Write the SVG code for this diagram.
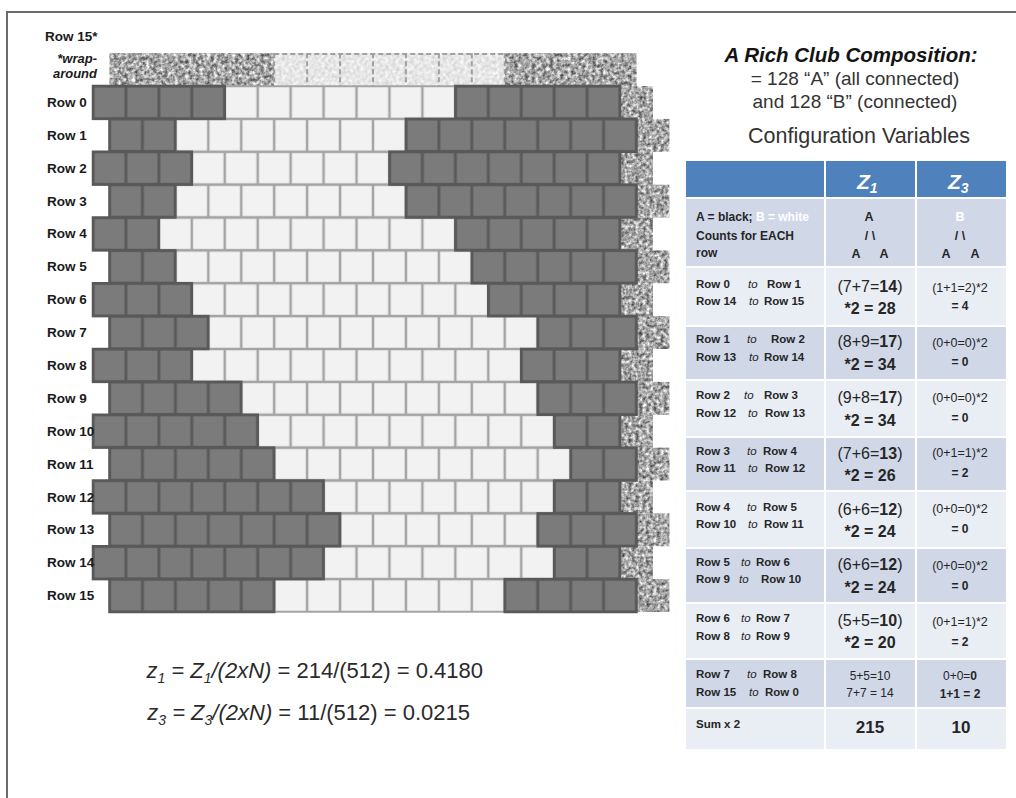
<svg xmlns="http://www.w3.org/2000/svg" width="1016" height="798" viewBox="0 0 1016 798">
<defs>
<style>
.lbl{font-family:"Liberation Sans",Arial,sans-serif;font-weight:bold;font-size:13.5px;fill:#1a1a1a}
.lbi{font-family:"Liberation Sans",Arial,sans-serif;font-weight:bold;font-style:italic;font-size:13px;fill:#1a1a1a}
.dk{stroke:#595959;stroke-width:2.5}
.wt{stroke:#a4a4a4;stroke-width:1.5}
.tx{fill:#888}
.ttl{font-family:"Liberation Sans",Arial,sans-serif;font-weight:bold;font-style:italic;font-size:20.5px;fill:#141414}
.sub{font-family:"Liberation Sans",Arial,sans-serif;font-size:19px;fill:#333}
.cfg{font-family:"Liberation Sans",Arial,sans-serif;font-size:21.5px;fill:#333}
.zh{font-family:"Liberation Sans",Arial,sans-serif;font-weight:bold;font-style:italic;font-size:21px;fill:#fff}
.c1{font-family:"Liberation Sans",Arial,sans-serif;font-weight:bold;font-size:12px;fill:#262626}
.ca{font-family:"Liberation Sans",Arial,sans-serif;font-weight:bold;font-size:12.5px;fill:#262626;text-anchor:middle}
.r{font-family:"Liberation Sans",Arial,sans-serif;font-weight:bold;font-size:11.5px;fill:#262626}
.to{font-weight:normal;font-style:italic}
.v{font-family:"Liberation Sans",Arial,sans-serif;font-size:16px;fill:#262626;text-anchor:middle}
.vb{font-family:"Liberation Sans",Arial,sans-serif;font-weight:bold;font-size:16px;fill:#262626;text-anchor:middle}
.s{font-family:"Liberation Sans",Arial,sans-serif;font-size:12.5px;fill:#262626;text-anchor:middle}
.sb{font-family:"Liberation Sans",Arial,sans-serif;font-weight:bold;font-size:12px;fill:#262626;text-anchor:middle}
.sm{font-family:"Liberation Sans",Arial,sans-serif;font-size:12px;fill:#262626;text-anchor:middle}
.big{font-family:"Liberation Sans",Arial,sans-serif;font-weight:bold;font-size:17px;fill:#262626;text-anchor:middle}
.f{font-family:"Liberation Sans",Arial,sans-serif;font-size:22px;fill:#2a2a2a;text-anchor:end}
.it{font-style:italic}
.hl{stroke:#fff;stroke-width:2}
</style>
<pattern id="wE" patternUnits="userSpaceOnUse" x="93" y="86" width="32.94" height="32.875"><rect width="32.94" height="32.875" fill="#a4a4a4"/><rect x="1.25" y="1.25" width="30.44" height="30.375" fill="#f2f2f2"/></pattern>
<pattern id="wO" patternUnits="userSpaceOnUse" x="109.47" y="86" width="32.94" height="32.875"><rect width="32.94" height="32.875" fill="#a4a4a4"/><rect x="1.25" y="1.25" width="30.44" height="30.375" fill="#f2f2f2"/></pattern>
<pattern id="dE" patternUnits="userSpaceOnUse" x="93" y="86" width="32.94" height="32.875"><rect width="32.94" height="32.875" fill="#5a5a5a"/><rect x="1.5" y="1.5" width="29.94" height="29.875" fill="#7b7b7b"/></pattern>
<pattern id="dO" patternUnits="userSpaceOnUse" x="109.47" y="86" width="32.94" height="32.875"><rect width="32.94" height="32.875" fill="#5a5a5a"/><rect x="1.5" y="1.5" width="29.94" height="29.875" fill="#7b7b7b"/></pattern>
<filter id="granD" x="0" y="0" width="1" height="1" color-interpolation-filters="sRGB">
<feTurbulence type="fractalNoise" baseFrequency="0.28" numOctaves="3" seed="4" result="n"/>
<feColorMatrix in="n" type="matrix" values="1.1 0 0 0 0.1  1.1 0 0 0 0.1  1.1 0 0 0 0.1  0 0 0 0 1" result="c"/>
<feGaussianBlur in="c" stdDeviation="0.45" result="b"/>
<feComposite in="b" in2="SourceGraphic" operator="in"/>
</filter>
<filter id="granL" x="0" y="0" width="1" height="1" color-interpolation-filters="sRGB">
<feTurbulence type="fractalNoise" baseFrequency="0.28" numOctaves="2" seed="9" result="n"/>
<feColorMatrix in="n" type="matrix" values="0.25 0 0 0 0.78  0.25 0 0 0 0.78  0.25 0 0 0 0.78  0 0 0 0 1"/>
<feComposite in2="SourceGraphic" operator="in"/>
</filter>
</defs>

<rect width="1016" height="798" fill="#fff"/>
<g id="frame"><path d="M7,798 V12 H1016" fill="none" stroke="#6a6a6a" stroke-width="2"/></g>

<g id="wrap-texture">
<g filter="url(#granD)" class="tx">
<rect x="109.47" y="53.125" width="164.7" height="32.875"/>
<rect x="504.75" y="53.125" width="131.76" height="32.875"/>
</g>
<rect x="274.17" y="53.125" width="230.58" height="32.875" fill="#888" filter="url(#granL)"/>
<path d="M274.17,54 H504.75 M274.17,53.125 V86 M307.11,53.125 V86 M340.05,53.125 V86 M372.99,53.125 V86 M405.93,53.125 V86 M438.87,53.125 V86 M471.81,53.125 V86 M504.75,53.125 V86" fill="none" stroke="#a0a0a0" stroke-width="2" stroke-dasharray="5 3"/>
<g class="tx">
<rect x="620.04" y="86" width="32.94" height="32.875" filter="url(#granD)"/>
<rect x="636.51" y="118.875" width="32.94" height="32.875" filter="url(#granD)"/>
<rect x="620.04" y="151.75" width="32.94" height="32.875" filter="url(#granD)"/>
<rect x="636.51" y="184.625" width="32.94" height="32.875" filter="url(#granD)"/>
<rect x="620.04" y="217.5" width="32.94" height="32.875" filter="url(#granD)"/>
<rect x="636.51" y="250.375" width="32.94" height="32.875" filter="url(#granD)"/>
<rect x="620.04" y="283.25" width="32.94" height="32.875" filter="url(#granD)"/>
<rect x="636.51" y="316.125" width="32.94" height="32.875" filter="url(#granD)"/>
<rect x="620.04" y="349" width="32.94" height="32.875" filter="url(#granD)"/>
<rect x="636.51" y="381.875" width="32.94" height="32.875" filter="url(#granD)"/>
<rect x="620.04" y="414.75" width="32.94" height="32.875" filter="url(#granD)"/>
<rect x="636.51" y="447.625" width="32.94" height="32.875" filter="url(#granD)"/>
<rect x="620.04" y="480.5" width="32.94" height="32.875" filter="url(#granD)"/>
<rect x="636.51" y="513.375" width="32.94" height="32.875" filter="url(#granD)"/>
<rect x="620.04" y="546.25" width="32.94" height="32.875" filter="url(#granD)"/>
<rect x="636.51" y="579.125" width="32.94" height="32.875" filter="url(#granD)"/>
</g>
</g>

<g id="grid-white" class="wt">
<rect x="224.76" y="86" width="230.58" height="32.875" fill="url(#wE)"/>
<rect x="175.35" y="118.875" width="230.58" height="32.875" fill="url(#wO)"/>
<rect x="191.82" y="151.75" width="197.64" height="32.875" fill="url(#wE)"/>
<rect x="175.35" y="184.625" width="230.58" height="32.875" fill="url(#wO)"/>
<rect x="158.88" y="217.5" width="296.46" height="32.875" fill="url(#wE)"/>
<rect x="175.35" y="250.375" width="296.46" height="32.875" fill="url(#wO)"/>
<rect x="191.82" y="283.25" width="296.46" height="32.875" fill="url(#wE)"/>
<rect x="208.29" y="316.125" width="329.4" height="32.875" fill="url(#wO)"/>
<rect x="191.82" y="349" width="329.4" height="32.875" fill="url(#wE)"/>
<rect x="241.23" y="381.875" width="296.46" height="32.875" fill="url(#wO)"/>
<rect x="257.7" y="414.75" width="296.46" height="32.875" fill="url(#wE)"/>
<rect x="274.17" y="447.625" width="296.46" height="32.875" fill="url(#wO)"/>
<rect x="323.58" y="480.5" width="230.58" height="32.875" fill="url(#wE)"/>
<rect x="340.05" y="513.375" width="197.64" height="32.875" fill="url(#wO)"/>
<rect x="323.58" y="546.25" width="230.58" height="32.875" fill="url(#wE)"/>
<rect x="274.17" y="579.125" width="230.58" height="32.875" fill="url(#wO)"/>
</g>

<g id="grid-dark" class="dk">
<rect x="93" y="86" width="131.76" height="32.875" fill="url(#dE)"/>
<rect x="455.34" y="86" width="164.7" height="32.875" fill="url(#dE)"/>
<rect x="109.47" y="118.875" width="65.88" height="32.875" fill="url(#dO)"/>
<rect x="405.93" y="118.875" width="230.58" height="32.875" fill="url(#dO)"/>
<rect x="93" y="151.75" width="98.82" height="32.875" fill="url(#dE)"/>
<rect x="389.46" y="151.75" width="230.58" height="32.875" fill="url(#dE)"/>
<rect x="109.47" y="184.625" width="65.88" height="32.875" fill="url(#dO)"/>
<rect x="405.93" y="184.625" width="230.58" height="32.875" fill="url(#dO)"/>
<rect x="93" y="217.5" width="65.88" height="32.875" fill="url(#dE)"/>
<rect x="455.34" y="217.5" width="164.7" height="32.875" fill="url(#dE)"/>
<rect x="109.47" y="250.375" width="65.88" height="32.875" fill="url(#dO)"/>
<rect x="471.81" y="250.375" width="164.7" height="32.875" fill="url(#dO)"/>
<rect x="93" y="283.25" width="98.82" height="32.875" fill="url(#dE)"/>
<rect x="488.28" y="283.25" width="131.76" height="32.875" fill="url(#dE)"/>
<rect x="109.47" y="316.125" width="98.82" height="32.875" fill="url(#dO)"/>
<rect x="537.69" y="316.125" width="98.82" height="32.875" fill="url(#dO)"/>
<rect x="93" y="349" width="98.82" height="32.875" fill="url(#dE)"/>
<rect x="521.22" y="349" width="98.82" height="32.875" fill="url(#dE)"/>
<rect x="109.47" y="381.875" width="131.76" height="32.875" fill="url(#dO)"/>
<rect x="537.69" y="381.875" width="98.82" height="32.875" fill="url(#dO)"/>
<rect x="93" y="414.75" width="164.7" height="32.875" fill="url(#dE)"/>
<rect x="554.16" y="414.75" width="65.88" height="32.875" fill="url(#dE)"/>
<rect x="109.47" y="447.625" width="164.7" height="32.875" fill="url(#dO)"/>
<rect x="570.63" y="447.625" width="65.88" height="32.875" fill="url(#dO)"/>
<rect x="93" y="480.5" width="230.58" height="32.875" fill="url(#dE)"/>
<rect x="554.16" y="480.5" width="65.88" height="32.875" fill="url(#dE)"/>
<rect x="109.47" y="513.375" width="230.58" height="32.875" fill="url(#dO)"/>
<rect x="537.69" y="513.375" width="98.82" height="32.875" fill="url(#dO)"/>
<rect x="93" y="546.25" width="230.58" height="32.875" fill="url(#dE)"/>
<rect x="554.16" y="546.25" width="65.88" height="32.875" fill="url(#dE)"/>
<rect x="109.47" y="579.125" width="164.7" height="32.875" fill="url(#dO)"/>
<rect x="504.75" y="579.125" width="131.76" height="32.875" fill="url(#dO)"/>
</g>

<g id="row-labels">
<text x="45" y="40.5" class="lbl">Row 15*</text>
<text x="97" y="63" class="lbi" text-anchor="end">*wrap-</text>
<text x="97" y="77.5" class="lbi" text-anchor="end">around</text>
<text x="47" y="106.9" class="lbl">Row 0</text>
<text x="47" y="139.8" class="lbl">Row 1</text>
<text x="47" y="172.7" class="lbl">Row 2</text>
<text x="47" y="205.6" class="lbl">Row 3</text>
<text x="47" y="238.4" class="lbl">Row 4</text>
<text x="47" y="271.3" class="lbl">Row 5</text>
<text x="47" y="304.2" class="lbl">Row 6</text>
<text x="47" y="337.1" class="lbl">Row 7</text>
<text x="47" y="370" class="lbl">Row 8</text>
<text x="47" y="402.8" class="lbl">Row 9</text>
<text x="47" y="435.7" class="lbl">Row 10</text>
<text x="47" y="468.6" class="lbl">Row 11</text>
<text x="47" y="501.5" class="lbl">Row 12</text>
<text x="47" y="534.4" class="lbl">Row 13</text>
<text x="47" y="567.3" class="lbl">Row 14</text>
<text x="47" y="600.1" class="lbl">Row 15</text>
</g>

<g id="title">
<text x="851" y="62" class="ttl" text-anchor="middle">A Rich Club Composition:</text>
<text x="855" y="85" class="sub" text-anchor="middle">= 128 “A” (all connected)</text>
<text x="855" y="108" class="sub" text-anchor="middle">and 128 “B” (connected)</text>
<text x="859" y="143" class="cfg" text-anchor="middle">Configuration Variables</text>
</g>

<g id="table">
<rect x="686" y="161" width="320" height="37" fill="#4f81bd"/>
<rect x="686" y="198" width="320" height="69" fill="#d0d8e8"/>
<rect x="686" y="267" width="320" height="59" fill="#e9edf4"/>
<rect x="686" y="326" width="320" height="54" fill="#d0d8e8"/>
<rect x="686" y="380" width="320" height="57" fill="#e9edf4"/>
<rect x="686" y="437" width="320" height="54" fill="#d0d8e8"/>
<rect x="686" y="491" width="320" height="57" fill="#e9edf4"/>
<rect x="686" y="548" width="320" height="55" fill="#d0d8e8"/>
<rect x="686" y="603" width="320" height="56" fill="#e9edf4"/>
<rect x="686" y="659" width="320" height="49" fill="#d0d8e8"/>
<rect x="686" y="708" width="320" height="41" fill="#e9edf4"/>
<path class="hl" d="M686,198 H1006 M686,267 H1006 M686,326 H1006 M686,380 H1006 M686,437 H1006 M686,491 H1006 M686,548 H1006 M686,603 H1006 M686,659 H1006 M686,708 H1006 M825,161 V749 M916,161 V749"/>

<text x="857" y="189" class="zh">Z<tspan font-size="14" dy="4">1</tspan></text>
<text x="948" y="189" class="zh">Z<tspan font-size="14" dy="4">3</tspan></text>

<text x="696" y="221" class="c1">A = black; <tspan fill="#fff">B = white</tspan></text>
<text x="696" y="240" class="c1">Counts for EACH</text>
<text x="696" y="257" class="c1">row</text>
<text x="869" y="221" class="ca">A</text>
<text x="870" y="240" class="ca">/  \</text>
<text x="856" y="258" class="ca">A</text>
<text x="884" y="258" class="ca">A</text>
<text x="960" y="221" class="ca" style="fill:#fff">B</text>
<text x="960" y="240" class="ca">/  \</text>
<text x="946" y="258" class="ca">A</text>
<text x="975" y="258" class="ca">A</text>

<text y="288" class="r"><tspan x="696">Row 0</tspan><tspan x="748" class="to">to</tspan><tspan x="767">Row 1</tspan></text>
<text y="305" class="r"><tspan x="696">Row 14</tspan><tspan x="749" class="to">to</tspan><tspan x="764">Row 15</tspan></text>
<text x="870" y="292" class="v">(7+7=<tspan font-weight="bold">14</tspan>)</text>
<text x="870" y="314" class="vb">*2 = 28</text>
<text x="960" y="292" class="s">(1+1=2)*2</text>
<text x="960" y="310" class="sb">= 4</text>

<text y="343" class="r"><tspan x="696">Row 1</tspan><tspan x="747" class="to">to</tspan><tspan x="771">Row 2</tspan></text>
<text y="361" class="r"><tspan x="696">Row 13</tspan><tspan x="749" class="to">to</tspan><tspan x="764">Row 14</tspan></text>
<text x="870" y="347" class="v">(8+9=<tspan font-weight="bold">17</tspan>)</text>
<text x="870" y="370" class="vb">*2 = 34</text>
<text x="960" y="347" class="s">(0+0=0)*2</text>
<text x="960" y="366" class="sb">= 0</text>

<text y="399" class="r"><tspan x="696">Row 2</tspan><tspan x="744" class="to">to</tspan><tspan x="764">Row 3</tspan></text>
<text y="417" class="r"><tspan x="696">Row 12</tspan><tspan x="748" class="to">to</tspan><tspan x="765">Row 13</tspan></text>
<text x="870" y="403" class="v">(9+8=<tspan font-weight="bold">17</tspan>)</text>
<text x="870" y="426" class="vb">*2 = 34</text>
<text x="960" y="402" class="s">(0+0=0)*2</text>
<text x="960" y="422" class="sb">= 0</text>

<text y="455" class="r"><tspan x="696">Row 3</tspan><tspan x="747" class="to">to</tspan><tspan x="763">Row 4</tspan></text>
<text y="472" class="r"><tspan x="696">Row 11</tspan><tspan x="748" class="to">to</tspan><tspan x="765">Row 12</tspan></text>
<text x="870" y="459" class="v">(7+6=<tspan font-weight="bold">13</tspan>)</text>
<text x="870" y="481" class="vb">*2 = 26</text>
<text x="960" y="457" class="s">(0+1=1)*2</text>
<text x="960" y="477" class="sb">= 2</text>

<text y="511" class="r"><tspan x="696">Row 4</tspan><tspan x="747" class="to">to</tspan><tspan x="763">Row 5</tspan></text>
<text y="528" class="r"><tspan x="696">Row 10</tspan><tspan x="748" class="to">to</tspan><tspan x="764">Row 11</tspan></text>
<text x="870" y="515" class="v">(6+6=<tspan font-weight="bold">12</tspan>)</text>
<text x="870" y="537" class="vb">*2 = 24</text>
<text x="960" y="513" class="s">(0+0=0)*2</text>
<text x="960" y="533" class="sb">= 0</text>

<text y="566" class="r"><tspan x="696">Row 5</tspan><tspan x="741" class="to">to</tspan><tspan x="756">Row 6</tspan></text>
<text y="583" class="r"><tspan x="696">Row 9</tspan><tspan x="739" class="to">to</tspan><tspan x="761">Row 10</tspan></text>
<text x="870" y="570" class="v">(6+6=<tspan font-weight="bold">12</tspan>)</text>
<text x="870" y="593" class="vb">*2 = 24</text>
<text x="960" y="570" class="s">(0+0=0)*2</text>
<text x="960" y="590" class="sb">= 0</text>

<text y="622" class="r"><tspan x="696">Row 6</tspan><tspan x="741" class="to">to</tspan><tspan x="756">Row 7</tspan></text>
<text y="640" class="r"><tspan x="696">Row 8</tspan><tspan x="741" class="to">to</tspan><tspan x="756">Row 9</tspan></text>
<text x="870" y="626" class="v">(5+5=<tspan font-weight="bold">10</tspan>)</text>
<text x="870" y="648" class="vb">*2 = 20</text>
<text x="960" y="626" class="s">(0+1=1)*2</text>
<text x="960" y="646" class="sb">= 2</text>

<text y="678" class="r"><tspan x="696">Row 7</tspan><tspan x="747" class="to">to</tspan><tspan x="763">Row 8</tspan></text>
<text y="696" class="r"><tspan x="696">Row 15</tspan><tspan x="749" class="to">to</tspan><tspan x="765">Row 0</tspan></text>
<text x="870" y="680" class="sm">5+5=10</text>
<text x="870" y="697" class="sm">7+7 = 14</text>
<text x="960" y="680" class="sm">0+0=<tspan font-weight="bold">0</tspan></text>
<text x="960" y="698" class="sb">1+1 = 2</text>

<text x="696" y="728" class="r">Sum x 2</text>
<text x="870" y="733" class="big">215</text>
<text x="961" y="733" class="big">10</text>
</g>

<g id="formulas">
<text x="483" y="678" class="f"><tspan class="it">z</tspan><tspan class="it" font-size="14" dy="5">1</tspan><tspan class="it" dy="-5"> = Z</tspan><tspan class="it" font-size="14" dy="5">1</tspan><tspan class="it" dy="-5">/(2xN)</tspan> = 214/(512) = 0.4180</text>
<text x="470" y="720" class="f"><tspan class="it">z</tspan><tspan class="it" font-size="14" dy="5">3</tspan><tspan class="it" dy="-5"> = Z</tspan><tspan class="it" font-size="14" dy="5">3</tspan><tspan class="it" dy="-5">/(2xN)</tspan> = 11/(512) = 0.0215</text>
</g>
</svg>
